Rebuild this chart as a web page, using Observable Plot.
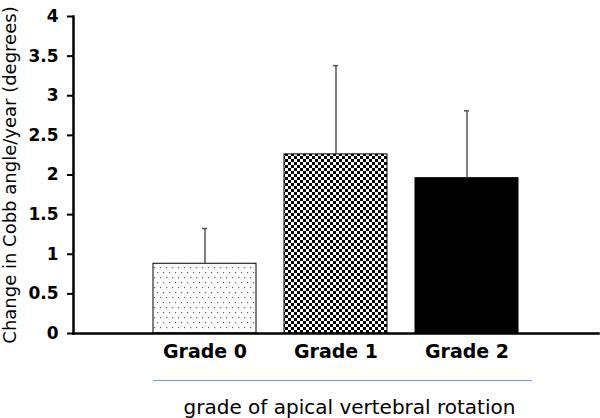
<!DOCTYPE html>
<html><head><meta charset="utf-8">
<script src="https://cdn.jsdelivr.net/npm/d3@7"></script>
<script src="https://cdn.jsdelivr.net/npm/@observablehq/plot@0.6"></script>
<style>body{margin:0;background:#fff}</style>
</head><body><div id="chart"></div>
<script>
const grades = ["Grade 0", "Grade 1", "Grade 2"];
const means = [0.88, 2.26, 1.96];
const sds = [0.445, 1.12, 0.85];
const yTicks = [0, 0.5, 1, 1.5, 2, 2.5, 3, 3.5, 4];
const yLabel = "Change in Cobb angle/year (degrees)";
const xLabel = "grade of apical vertebral rotation";
const fills = ["url(#dots)", "url(#checks)", "#000"];

const data = grades.map((g, i) => ({grade: g, mean: means[i], upper: means[i] + sds[i]}));

const chart = Plot.plot({
  width: 600, height: 418,
  marginTop: 16, marginBottom: 85, marginLeft: 73, marginRight: 2,
  style: {fontFamily: "DejaVu Sans", background: "#fff", color: "#000", overflow: "visible"},
  x: {domain: grades, paddingInner: 0.21, paddingOuter: 0.6, label: null},
  y: {domain: [0, 4], label: null},
  color: {domain: grades, range: fills},
  marks: [
    Plot.barY(data, {x: "grade", y: "mean", fill: "grade", stroke: "#000", strokeWidth: 1}),
    Plot.ruleX(data, {x: "grade", y1: "mean", y2: "upper", stroke: "#555", strokeWidth: 1.5}),
    Plot.tickY(data, {x: "grade", y: "upper", stroke: "#555", strokeWidth: 1.5, insetLeft: 49, insetRight: 49}),
    Plot.frame({anchor: "left", strokeWidth: 2.5}),
    Plot.frame({anchor: "bottom", strokeWidth: 2.5}),
    Plot.axisY({ticks: yTicks, tickFormat: d => String(d), tickSize: 6, tickPadding: 9, strokeWidth: 2, fontSize: 17, fontWeight: "bold", label: null}),
    Plot.axisX({tickSize: 0, tickPadding: 11, fontSize: 19, fontWeight: "bold", label: null}),
    Plot.ruleY([0], {dy: 47, insetLeft: 80, insetRight: 66, stroke: "#6a9be0", strokeWidth: 1.2}),
    Plot.text([yLabel], {frameAnchor: "left", rotate: -90, dx: -63, textAnchor: "middle", fontSize: 18}),
    Plot.text([xLabel], {frameAnchor: "bottom", dx: 13.5, dy: 80, lineAnchor: "bottom", fontSize: 20})
  ]
});

const defs = d3.select(chart).insert("defs", ":first-child");
const p1 = defs.append("pattern").attr("id", "dots").attr("patternUnits", "userSpaceOnUse").attr("width", 6).attr("height", 10);
p1.append("rect").attr("width", 6).attr("height", 10).attr("fill", "#fff");
p1.append("rect").attr("x", 1).attr("y", 2).attr("width", 1.2).attr("height", 1.2).attr("fill", "#666");
p1.append("rect").attr("x", 4).attr("y", 7).attr("width", 1.2).attr("height", 1.2).attr("fill", "#666");
const p2 = defs.append("pattern").attr("id", "checks").attr("patternUnits", "userSpaceOnUse").attr("width", 6).attr("height", 6);
p2.append("rect").attr("width", 6).attr("height", 6).attr("fill", "#fff");
p2.append("rect").attr("width", 3).attr("height", 3).attr("fill", "#000");
p2.append("rect").attr("x", 3).attr("y", 3).attr("width", 3).attr("height", 3).attr("fill", "#000");

document.getElementById("chart").appendChild(chart);
</script>
</body></html>
